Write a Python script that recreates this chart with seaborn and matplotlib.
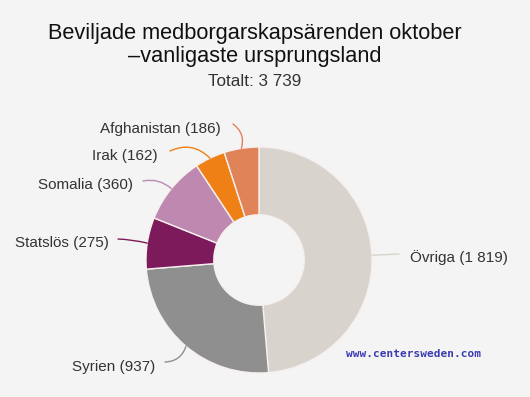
import numpy as np
import matplotlib
matplotlib.use("Agg")
import matplotlib.pyplot as plt
import seaborn as sns

categories = ["Övriga", "Syrien", "Statslös", "Somalia", "Irak", "Afghanistan"]
values = [1819, 937, 275, 360, 162, 186]
value_labels = ["1 819", "937", "275", "360", "162", "186"]
colors = ["#d9d3cd", "#8f8f8f", "#7c1a5c", "#bf88b0", "#ef8016", "#e08358"]
title = "Beviljade medborgarskapsärenden oktober\n–vanligaste ursprungsland"
subtitle = "Totalt: 3 739"

sns.set_style("white")
plt.rcParams["font.family"] = ["Liberation Sans", "DejaVu Sans"]

W, H = 530, 397
fig = plt.figure(figsize=(W / 100, H / 100), dpi=100)
fig.patch.set_facecolor("#f4f4f4")

cx, cy, R = 259, 260, 113
ax = fig.add_axes([(cx - R) / W, (H - cy - R) / H, 2 * R / W, 2 * R / H])
ax.set_facecolor("#f4f4f4")
wedges, _ = ax.pie(values, colors=colors, startangle=90, counterclock=False,
                   radius=1.0, wedgeprops=dict(width=0.6, edgecolor="#f7f0ee", linewidth=1))
ax.set_xlim(-1, 1)
ax.set_ylim(-1, 1)
ax.set_aspect("equal")
ax.axis("off")

def px2d(px, py):
    return ((px - cx) / R, (cy - py) / R)

# label placement (pixels): text anchor, ha, line start, curvature
layout = {
    "Övriga": ((410, 258), "left", (399, 254), 0.0),
    "Syrien": ((155, 367), "right", (165, 362), 0.35),
    "Statslös": ((109, 243), "right", (118, 239), -0.05),
    "Somalia": ((133, 185), "right", (143, 181), -0.25),
    "Irak": ((158, 156), "right", (170, 151), -0.35),
    "Afghanistan": ((221, 129), "right", (233, 124), -0.35),
}

total = sum(values)
cum = 0
for cat, val, lab, col, w in zip(categories, values, value_labels, colors, wedges):
    mid = 90 - 360 * (cum + val / 2) / total
    cum += val
    tpos, ha, lstart, rad = layout[cat]
    ex, ey = np.cos(np.radians(mid)) * 1.0, np.sin(np.radians(mid)) * 1.0
    sx, sy = px2d(*lstart)
    ax.annotate("", xy=(ex, ey), xytext=(sx, sy),
                arrowprops=dict(arrowstyle="-", color=col, lw=1,
                                connectionstyle=f"arc3,rad={rad}",
                                shrinkA=0, shrinkB=0),
                annotation_clip=False)
    tx, ty = px2d(*tpos)
    ax.text(tx, ty, f"{cat} ({lab})", ha=ha, va="center", fontsize=11,
            color="#333333", clip_on=False)

fig.text(255 / W, 1 - 45 / H, title, ha="center", va="center", fontsize=15.7,
         color="#111111", linespacing=1.1)
fig.text(255 / W, 1 - 82 / H, subtitle, ha="center", va="center", fontsize=12.3,
         color="#333333")
fig.text(414 / W, 1 - 354 / H, "www.centersweden.com", ha="center", va="center",
         fontsize=8, fontweight="bold", color="#3b3bb3", family="DejaVu Sans Mono")

fig.savefig("out.png", dpi=100, facecolor=fig.get_facecolor())
